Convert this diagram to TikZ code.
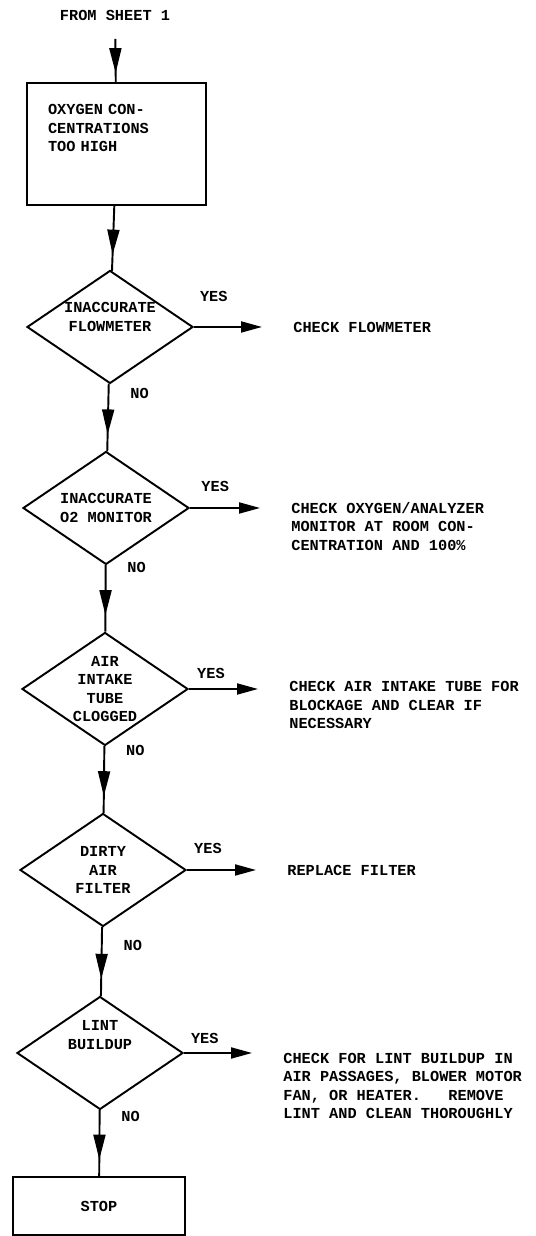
\documentclass[tikz,border=0pt]{standalone}
\usepackage{fontspec}
\setmonofont{Liberation Mono}
\usetikzlibrary{shapes.geometric,arrows.meta,decorations.markings}

\begin{document}
\begin{tikzpicture}[
  font=\ttfamily\bfseries\fontsize{8.7}{10.5}\selectfont,
  box/.style={rectangle, draw=black, line width=1.1pt},
  decision/.style={diamond, draw=black, line width=1.1pt, aspect=1.47, minimum width=3.32cm, minimum height=2.26cm, inner sep=0pt, align=center},
  action/.style={anchor=west, inner sep=0pt, align=left},
  flow/.style={line width=1.1pt, postaction={decorate}, decoration={markings, mark=at position #1 with {\arrow{Triangle[length=0.5cm,width=0.24cm]}}}},
  flow/.default=0.75,
  yesline/.style={line width=1.1pt, -{Triangle[length=0.42cm,width=0.22cm]}, shorten >=0.62cm}
]
\useasboundingbox (0,0) rectangle (10.7,24.72);

% --- Columna principal ---
\node (from) at (2.30,24.42) {FROM SHEET 1};
\node[box, minimum width=3.58cm, minimum height=2.44cm, text width=2.74cm, inner xsep=0.42cm, align=left] (high) at (2.33,21.84) {OXYGEN CON-\\CENTRATIONS\\TOO HIGH\\[0.27cm]\mbox{}};
\node[decision] (flowm) at (2.20,18.18) {INACCURATE\\FLOWMETER\\[0.03cm]\mbox{}};
\node[decision] (monit) at (2.12,14.56) {INACCURATE\\O2 MONITOR};
\node[decision] (intake) at (2.10,10.94) {AIR\\INTAKE\\TUBE\\CLOGGED};
\node[decision] (filter) at (2.06,7.32) {DIRTY\\AIR\\FILTER};
\node[decision] (lint) at (2.00,3.66) {LINT\\BUILDUP\\[0.35cm]\mbox{}};
\node[box, minimum width=3.44cm, minimum height=1.16cm] (stop) at (1.98,0.60) {STOP};

% --- Acciones ---
\node[action] (chkflow) at (5.86,18.18) {CHECK FLOWMETER};
\node[action] (chkmon) at (5.82,14.19) {CHECK OXYGEN/ANALYZER\\MONITOR AT ROOM CON-\\CENTRATION AND 100\%};
\node[action] (chkint) at (5.78,10.62) {CHECK AIR INTAKE TUBE FOR\\BLOCKAGE AND CLEAR IF\\NECESSARY};
\node[action] (replace) at (5.74,7.32) {REPLACE FILTER};
\node[action] (chklint) at (5.66,3.00) {CHECK FOR LINT BUILDUP IN\\AIR PASSAGES, BLOWER MOTOR\\FAN, OR HEATER.\ \ \ REMOVE\\LINT AND CLEAN THOROUGHLY};

% --- Flujo ---
\draw[flow=0.84, shorten <=0.25cm] (from) -- (high);
\draw[flow] (high) -- (flowm);
\draw[flow] (flowm) -- node[pos=0.15, right=0.3cm] {NO} (monit);
\draw[flow] (monit) -- node[pos=0.03, right=0.3cm] {NO} (intake);
\draw[flow] (intake) -- node[pos=0.07, right=0.3cm] {NO} (filter);
\draw[flow] (filter) -- node[pos=0.27, right=0.3cm] {NO} (lint);
\draw[flow] (lint) -- node[pos=0.1, right=0.3cm] {NO} (stop);

\draw[yesline] (flowm.east) -- node[pos=0.2, above=0.38cm] {YES} (flowm.east -| chkflow.west);
\draw[yesline] (monit.east) -- node[pos=0.25, above=0.2cm] {YES} (monit.east -| chkmon.west);
\draw[yesline] (intake.east) -- node[pos=0.22, above=0.08cm] {YES} (intake.east -| chkint.west);
\draw[yesline] (filter.east) -- node[pos=0.21, above=0.2cm] {YES} (filter.east -| replace.west);
\draw[yesline] (lint.east) -- node[pos=0.21, above=0.06cm] {YES} (lint.east -| chklint.west);

\end{tikzpicture}
\end{document}
